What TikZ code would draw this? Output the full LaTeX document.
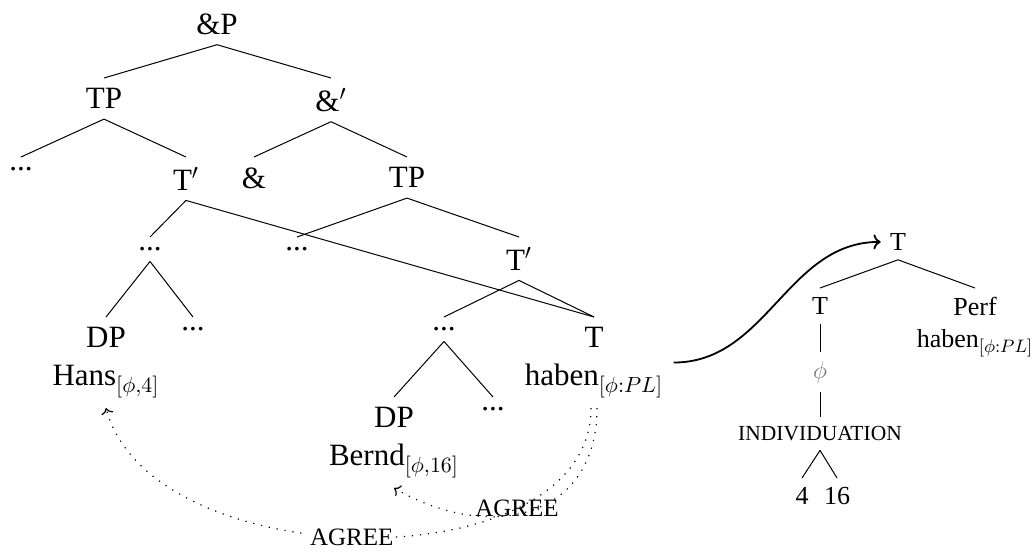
\documentclass[tikz,border=0pt]{standalone}
\usepackage{fontspec}
\setmainfont{Liberation Serif}
\usetikzlibrary{arrows.meta}
\begin{document}
\begin{tikzpicture}[x=0.5pt,y=-0.5pt,
  every node/.style={font=\fontsize{15.5}{19}\selectfont, inner sep=5pt, anchor=north, align=center},
  rt/.style={font=\fontsize{13}{16}\selectfont, inner sep=4.5pt},
  indiv/.style={font=\fontsize{10.75}{12}\selectfont},
  br/.style={line width=0.5pt},
  agr/.style={line width=0.6pt, dash pattern=on 0.6pt off 3.4pt, ->},
  agrlabel/.style={font=\fontsize{12.5}{14}\selectfont, anchor=center, inner sep=1pt},
  mv/.style={line width=0.9pt, ->}]
\useasboundingbox (0,0) rectangle (1036,556);
% left tree
\node (AP) at (217,3) {\&P};
\node (TP1) at (104,78) {TP};
\node (Ab) at (331,78) {\&$'$};
\node (d1) at (21,157) {...};
\node (Tb1) at (186,157) {T$'$};
\node (amp) at (254,157) {\&};
\node (TP2) at (407,157) {TP};
\node (d2) at (150,237) {...};
\node (d3) at (297,237) {...};
\node (Tb2) at (519,237) {T$'$};
\node (DP1) at (106,317) {DP\\Hans$_{[\phi,4]}$};
\node (d4) at (193,317) {...};
\node (d5) at (444,317) {...};
\node (Th) at (594,317) {T\\haben$_{[\phi:PL]}$};
\node (DP2) at (394,397) {DP\\Bernd$_{[\phi,16]}$};
\node (d6) at (493,397) {...};
\draw[br] (AP.south) -- (TP1.north);
\draw[br] (AP.south) -- (Ab.north);
\draw[br] (TP1.south) -- (d1.north);
\draw[br] (TP1.south) -- (Tb1.north);
\draw[br] (Ab.south) -- (amp.north);
\draw[br] (Ab.south) -- (TP2.north);
\draw[br] (Tb1.south) -- (d2.north);
\draw[br] (Tb1.south) -- (Th.north);
\draw[br] (TP2.south) -- (d3.north);
\draw[br] (TP2.south) -- (Tb2.north);
\draw[br] (d2.south) -- (DP1.north);
\draw[br] (d2.south) -- (d4.north);
\draw[br] (Tb2.south) -- (d5.north);
\draw[br] (Tb2.south) -- (Th.north);
\draw[br] (d5.south) -- (DP2.north);
\draw[br] (d5.south) -- (d6.north);
% right tree
\node[rt] (RT) at (898,224) {T};
\node[rt] (RT2) at (820,288) {T};
\node[rt] (Perf) at (975,288) {Perf\\haben$_{[\phi:PL]}$};
\node[rt, text=black!55] (phi) at (820,352) {$\phi$};
\node[rt, indiv] (IND) at (820,417) {INDIVIDUATION};
\node[rt] (n4) at (802,478) {4};
\node[rt] (n16) at (837,478) {16};
\draw[br] (RT.south) -- (RT2.north);
\draw[br] (RT.south) -- (Perf.north);
\draw[br] (RT2.south) -- (phi.north);
\draw[br] (phi.south) -- (IND.north);
\draw[br] (IND.south) -- (n4.north);
\draw[br] (IND.south) -- (n16.north);
% movement arrow
\draw[mv] (Th.east) to[out=0,in=180] (RT.west);
% agree arrows
\draw[agr] ([xshift=1.5pt]Th.south) to[out=-90,in=-30,looseness=1.3] node[agrlabel, pos=0.56, yshift=3pt] {AGREE} (DP2.south);
\draw[agr] ([xshift=-1.5pt]Th.south) to[out=-90,in=-75,looseness=0.93] node[agrlabel, pos=0.52, fill=white] {AGREE} (DP1.south);
\end{tikzpicture}
\end{document}
